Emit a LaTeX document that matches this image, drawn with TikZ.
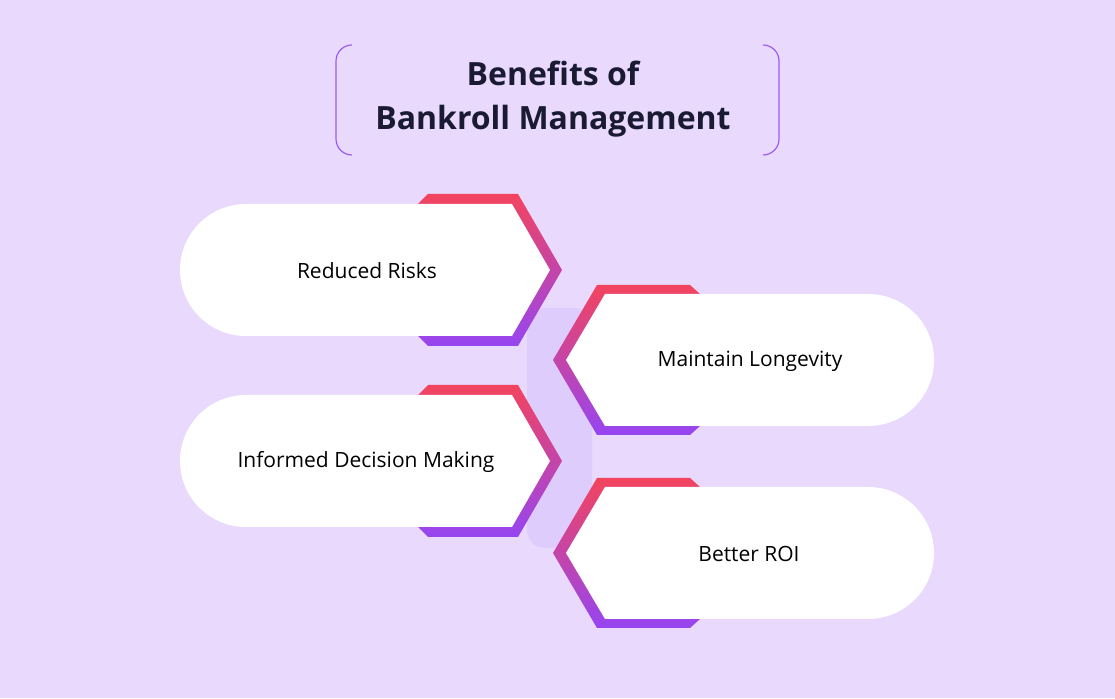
\documentclass[tikz,border=0pt]{standalone}
\usepackage{fontspec}
\setmainfont{Open Sans}
\definecolor{bgpurple}{HTML}{E8D9FD}
\definecolor{linkpurple}{HTML}{DECCFC}
\definecolor{edgered}{HTML}{F3445E}
\definecolor{edgeviolet}{HTML}{9645F2}
\definecolor{inkdark}{HTML}{1A1A33}
\definecolor{framepurple}{HTML}{9B5CF5}
\tikzset{
  card/.style={fill=white},
  rim/.style={top color=edgered, bottom color=edgeviolet},
  label/.style={font=\fontsize{21}{25}\selectfont, text=black},
}
% left card, pointing right, centred at height #1
\newcommand{\leftcard}[1]{%
  \shade[rim] (428,#1+76) -- (518,#1+76) -- (562,#1) -- (518,#1-76) -- (428,#1-76) -- (418,#1-66) -- (418,#1+66) -- cycle;
  \fill[card] (246,#1+66) arc (90:270:66) -- (512,#1-66) -- (550,#1) -- (512,#1+66) -- cycle;}
% right card, pointing left, centred at height #1
\newcommand{\rightcard}[1]{%
  \shade[rim] (553,#1) -- (597,#1+75) -- (690,#1+75) -- (700,#1+66) -- (700,#1-66) -- (690,#1-75) -- (597,#1-75) -- cycle;
  \fill[card] (566,#1) -- (605,#1+66) -- (868,#1+66) arc (90:-90:66) -- (605,#1-66) -- cycle;}
\begin{document}
\begin{tikzpicture}[x=1pt,y=1pt]
  \fill[bgpurple] (0,0) rectangle (1115,698);
  \useasboundingbox (0,0) rectangle (1115,698);
  % title frame
  \draw[framepurple, line width=1.2pt] (352,653) to[out=180,in=90] (336,637) -- (336,559) to[out=-90,in=180] (352,543);
  \draw[framepurple, line width=1.2pt] (763,653) to[out=0,in=90] (779,637) -- (779,559) to[out=-90,in=0] (763,543);
  \node[font=\fontsize{32}{44}\selectfont\bfseries, text=inkdark, align=center] (title) at (553,599) {Benefits of\\Bankroll Management};
  % link strip
  \fill[linkpurple, rounded corners=18pt] (527,150) rectangle (592,390);
  % cards
  \leftcard{428}
  \rightcard{338}
  \leftcard{237}
  \rightcard{145}
  \node[label] (risks) at (367,427) {Reduced Risks};
  \node[label] (longevity) at (750,337) {Maintain Longevity};
  \node[label] (decision) at (366,236) {Informed Decision Making};
  \node[label] (roi) at (749,144) {Better ROI};
\end{tikzpicture}
\end{document}
